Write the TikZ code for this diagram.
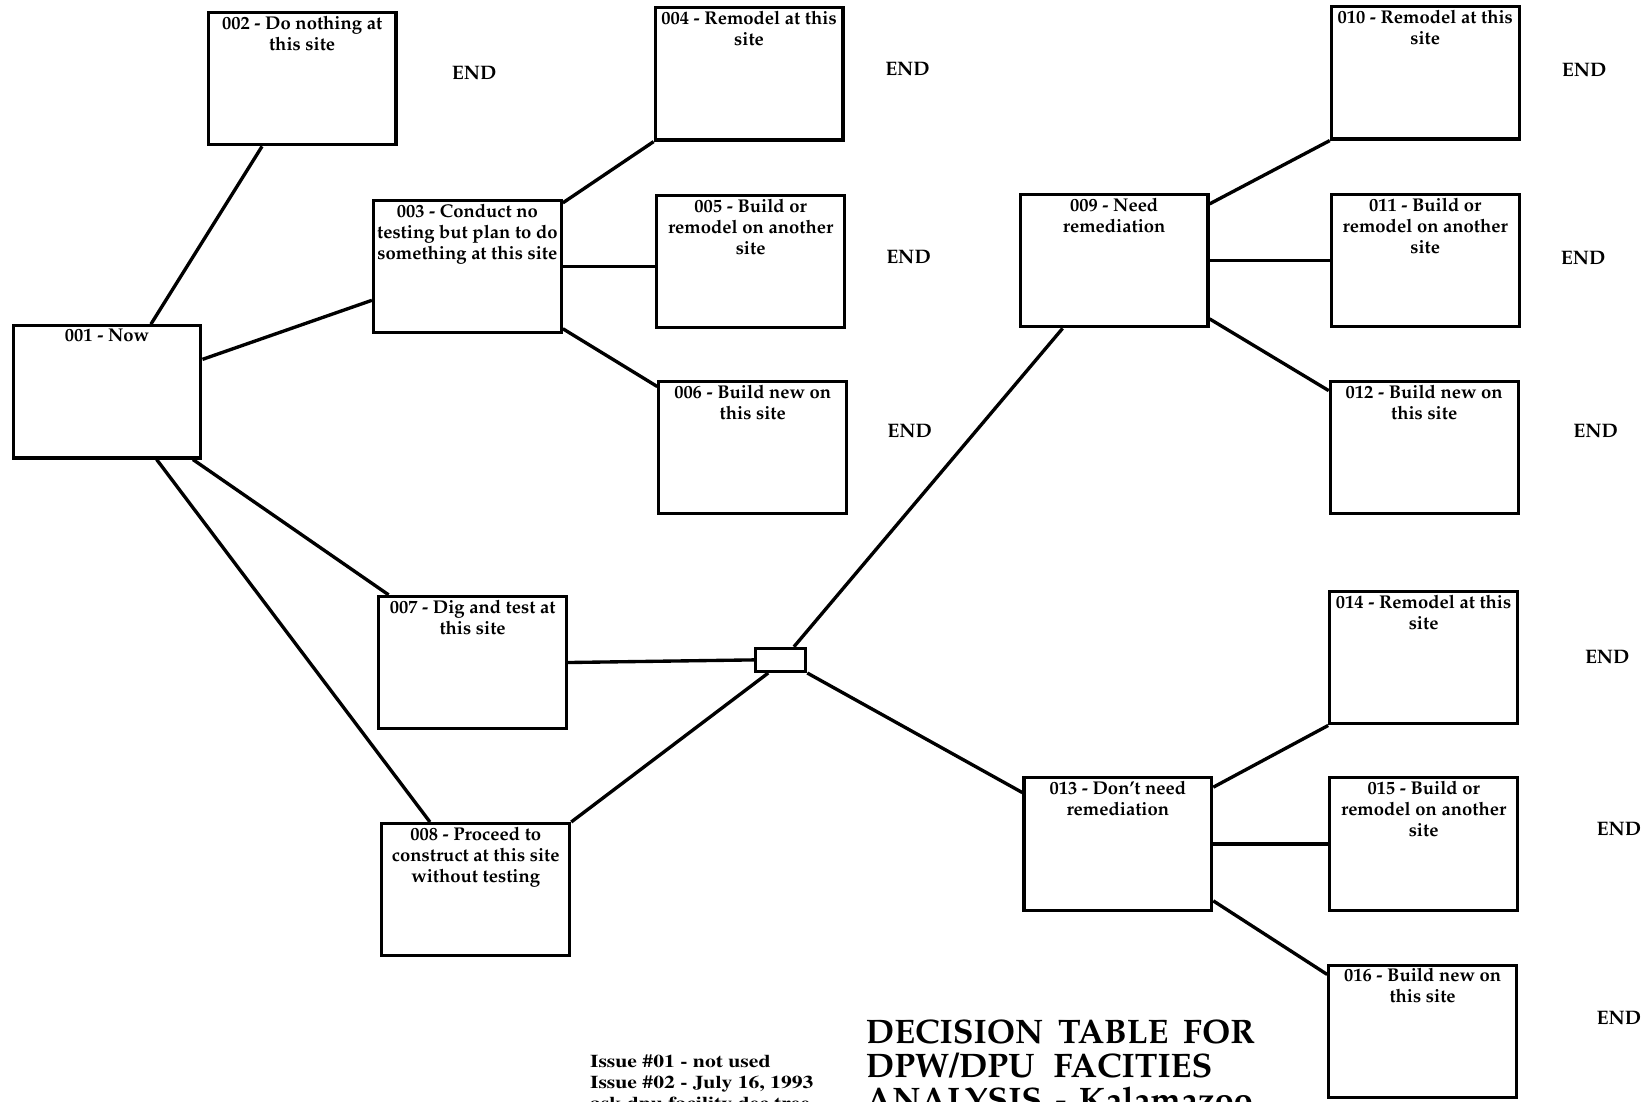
\documentclass[tikz,border=0pt]{standalone}
\usepackage[T1]{fontenc}
\usepackage{mathpazo}
\usetikzlibrary{calc}

\tikzset{
  box/.style={draw, line width=1.5pt, minimum width=89.5pt, minimum height=63pt, inner sep=0pt},
  boxtext/.style={anchor=north, yshift=-2.2pt, align=center, inner sep=0pt,
    font=\bfseries\fontsize{8.8}{10}\selectfont},
  junction/.style={draw, line width=1.5pt, minimum width=24pt, minimum height=11pt, inner sep=0pt},
  wire/.style={line width=1.6pt},
  endmark/.style={font=\bfseries\fontsize{9.3}{10}\selectfont, inner sep=0pt},
  issuetext/.style={anchor=north west, align=left, inner sep=0pt, xscale=1.2, transform shape,
    font=\fontfamily{ptm}\bfseries\fontsize{8.6}{10}\selectfont},
  titletext/.style={anchor=north west, align=left, inner sep=0pt,
    font=\bfseries\fontsize{16.2}{16}\selectfont}
}

\begin{document}
\begin{tikzpicture}[x=0.5pt,y=-0.5pt]
\useasboundingbox (0,0) rectangle (1568,1050);
\clip (0,0) rectangle (1568,1050);

% decision boxes
\node[box, label={[boxtext]north:{001 - Now}}] (n001) at (102,373.5) {};
\node[box, label={[boxtext]north:{002 - Do nothing at\\this site}}] (n002) at (288,75) {};
\node[box, label={[boxtext]north:{003 - Conduct no\\testing but plan to do\\something at this site}}] (n003) at (445.5,254) {};
\node[box, label={[boxtext]north:{004 - Remodel at this\\site}}] (n004) at (714,70.5) {};
\node[box, label={[boxtext]north:{005 - Build or\\remodel on another\\site}}] (n005) at (715.5,249.5) {};
\node[box, label={[boxtext]north:{006 - Build new on\\this site}}] (n006) at (717.5,426.5) {};
\node[box, label={[boxtext]north:{007 - Dig and test at\\this site}}] (n007) at (450.5,631.5) {};
\node[box, label={[boxtext]north:{008 - Proceed to\\construct at this site\\without testing}}] (n008) at (453.5,848) {};
\node[junction] (jn) at (744,629) {};
\node[box, label={[boxtext]north:{009 - Need\\remediation}}] (n009) at (1062,248.5) {};
\node[box, label={[boxtext]north:{010 - Remodel at this\\site}}] (n010) at (1358.5,69.5) {};
\node[box, label={[boxtext]north:{011 - Build or\\remodel on another\\site}}] (n011) at (1358.5,248.5) {};
\node[box, label={[boxtext]north:{012 - Build new on\\this site}}] (n012) at (1357.5,426.5) {};
\node[box, label={[boxtext]north:{013 - Don't need\\remediation}}] (n013) at (1065.5,804.5) {};
\node[box, label={[boxtext]north:{014 - Remodel at this\\site}}] (n014) at (1357,627) {};
\node[box, label={[boxtext]north:{015 - Build or\\remodel on another\\site}}] (n015) at (1357,804.5) {};
\node[box, label={[boxtext]north:{016 - Build new on\\this site}}] (n016) at (1356,983) {};

% end markers
\node[endmark] (e002) at (452,70) {END};
\node[endmark] (e004) at (865,66) {END};
\node[endmark] (e005) at (866,245) {END};
\node[endmark] (e006) at (867,411) {END};
\node[endmark] (e010) at (1510,67) {END};
\node[endmark] (e011) at (1509,246) {END};
\node[endmark] (e012) at (1521,411) {END};
\node[endmark] (e014) at (1532,626) {END};
\node[endmark] (e015) at (1543,790) {END};
\node[endmark] (e016) at (1543,970) {END};

% branches
\draw[wire] ($(n001.north west)!0.73!(n001.north east)$) -- ($(n002.south west)!0.29!(n002.south east)$);
\draw[wire] ($(n001.north east)!0.26!(n001.south east)$) -- ($(n003.north west)!0.75!(n003.south west)$);
\draw[wire] ($(n001.south west)!0.95!(n001.south east)$) -- ($(n007.north west)!0.06!(n007.north east)$);
\draw[wire] ($(n001.south west)!0.76!(n001.south east)$) -- ($(n008.north west)!0.26!(n008.north east)$);

\draw[wire] ($(n003.north east)!0.03!(n003.south east)$) -- (n004.south west);
\draw[wire] (n003.east) -- (n003.east -| n005.west);
\draw[wire] ($(n003.north east)!0.96!(n003.south east)$) -- ($(n006.north west)!0.05!(n006.south west)$);

\draw[wire] (n007.east) -- (jn.west);
\draw[wire] (n008.north east) -- ($(jn.south west)!0.27!(jn.south east)$);
\draw[wire] ($(jn.north west)!0.75!(jn.north east)$) -- ($(n009.south west)!0.23!(n009.south east)$);
\draw[wire] (jn.south east) -- ($(n013.north west)!0.12!(n013.south west)$);

\draw[wire] ($(n009.north east)!0.08!(n009.south east)$) -- (n010.south west);
\draw[wire] (n009.east) -- (n009.east -| n011.west);
\draw[wire] ($(n009.north east)!0.93!(n009.south east)$) -- ($(n012.north west)!0.08!(n012.south west)$);

\draw[wire] ($(n013.north east)!0.08!(n013.south east)$) -- (n014.south west);
\draw[wire] (n013.east) -- (n013.east -| n015.west);
\draw[wire] ($(n013.north east)!0.92!(n013.south east)$) -- ($(n016.north west)!0.08!(n016.south west)$);

% issue notes and title
\node[issuetext] (issue) at (562,1005) {Issue \#01 - not used\\Issue \#02 - July 16, 1993\\ask dpu facility dec tree};
\node[titletext] (title) at (825,972) {DECISION\hspace{3pt} TABLE\hspace{3pt} FOR\\DPW/DPU\hspace{5pt} FACITIES\\ANALYSIS\hspace{2pt} -\hspace{2pt} Kalamazoo};
\end{tikzpicture}
\end{document}
